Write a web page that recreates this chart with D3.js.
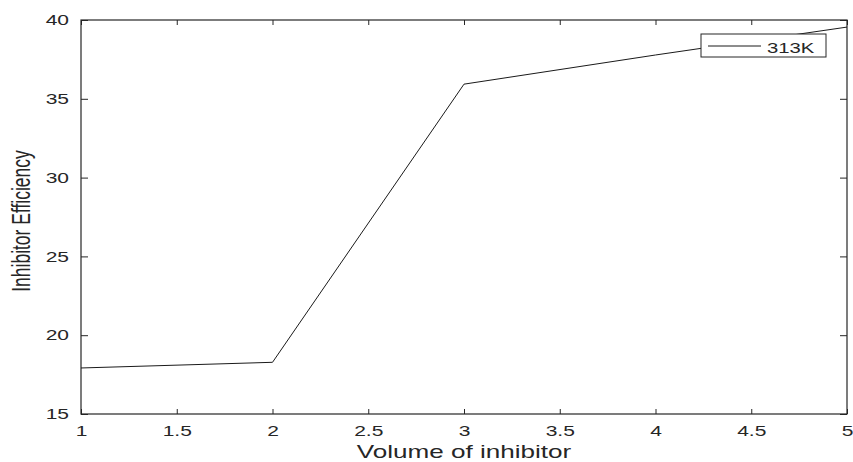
<!DOCTYPE html>
<html>
<head>
<meta charset="utf-8">
<script src="https://cdn.jsdelivr.net/npm/d3@7"></script>
<style>
  body { margin: 0; background: #fff; }
  text { font-family: "Liberation Sans", Arial, sans-serif; fill: #262626; }
</style>
</head>
<body>
<svg id="chart"></svg>
<script>
const volumes = [1, 2, 3, 4, 5];
const efficiency313 = [17.92, 18.28, 35.93, 37.78, 39.55];
const xTicks = [1, 1.5, 2, 2.5, 3, 3.5, 4, 4.5, 5];
const yTicks = [15, 20, 25, 30, 35, 40];
const seriesName = '313K';

const width = 853;
const height = 462;
const margin = { top: 20, right: 6, bottom: 48, left: 81 };
const innerW = width - margin.left - margin.right;
const innerH = height - margin.top - margin.bottom;
// the source figure was stretched sideways, so text is widened to match
const stretch = 1.45;

const svg = d3.select('#chart')
    .attr('width', width)
    .attr('height', height);

const g = svg.append('g')
    .attr('transform', `translate(${margin.left},${margin.top})`);

const x = d3.scaleLinear().domain([1, 5]).range([0, innerW]);
const y = d3.scaleLinear().domain([15, 40]).range([innerH, 0]);

const styleAxis = (sel) => {
    sel.select('.domain').remove();
    sel.selectAll('line').attr('stroke', '#262626');
    sel.selectAll('text').attr('font-size', 14.5).attr('fill', '#262626');
};

// bottom and left axes, ticks pointing inward like matlab
g.append('g')
    .attr('transform', `translate(0,${innerH})`)
    .call(d3.axisBottom(x).tickValues(xTicks).tickFormat(d3.format('')).tickSizeInner(-5).tickSizeOuter(0))
    .call(styleAxis)
    .call((sel) => sel.selectAll('text')
        .attr('y', 22.5)
        .attr('dy', 0)
        .attr('transform', `scale(${stretch},1)`));

g.append('g')
    .call(d3.axisLeft(y).tickValues(yTicks).tickFormat(d3.format('')).tickSizeInner(-7).tickSizeOuter(0))
    .call(styleAxis)
    .call((sel) => sel.selectAll('text')
        .attr('x', -12 / stretch)
        .attr('transform', `scale(${stretch},1)`));

// mirrored ticks on top and right
g.append('g')
    .call(d3.axisTop(x).tickValues(xTicks).tickFormat('').tickSizeInner(-5).tickSizeOuter(0))
    .call(styleAxis);

g.append('g')
    .attr('transform', `translate(${innerW},0)`)
    .call(d3.axisRight(y).tickValues(yTicks).tickFormat('').tickSizeInner(-7).tickSizeOuter(0))
    .call(styleAxis);

g.append('rect')
    .attr('width', innerW)
    .attr('height', innerH)
    .attr('fill', 'none')
    .attr('stroke', '#262626')
    .attr('stroke-width', 1.2);

const line = d3.line()
    .x((d, i) => x(volumes[i]))
    .y((d) => y(d));

g.append('path')
    .datum(efficiency313)
    .attr('fill', 'none')
    .attr('stroke', '#1a1a1a')
    .attr('stroke-width', 1)
    .attr('d', line);

// legend
const legend = svg.append('g').attr('transform', 'translate(701,34)');
legend.append('rect')
    .attr('width', 125)
    .attr('height', 23)
    .attr('fill', '#fff')
    .attr('stroke', '#262626')
    .attr('stroke-width', 1);
legend.append('line')
    .attr('x1', 7).attr('x2', 60)
    .attr('y1', 12).attr('y2', 12)
    .attr('stroke', '#1a1a1a');
legend.append('text')
    .attr('transform', `translate(66,18.5) scale(${stretch},1)`)
    .attr('font-size', 14)
    .text(seriesName);

// axis titles
svg.append('text')
    .attr('transform', `translate(${margin.left + innerW / 2},457.5) scale(${stretch},1)`)
    .attr('text-anchor', 'middle')
    .attr('font-size', 18)
    .text('Volume of inhibitor');

svg.append('text')
    .attr('transform', `translate(30,221) scale(${stretch},1) rotate(-90)`)
    .attr('text-anchor', 'middle')
    .attr('font-size', 17.5)
    .text('Inhibitor Efficiency');
</script>
</body>
</html>
